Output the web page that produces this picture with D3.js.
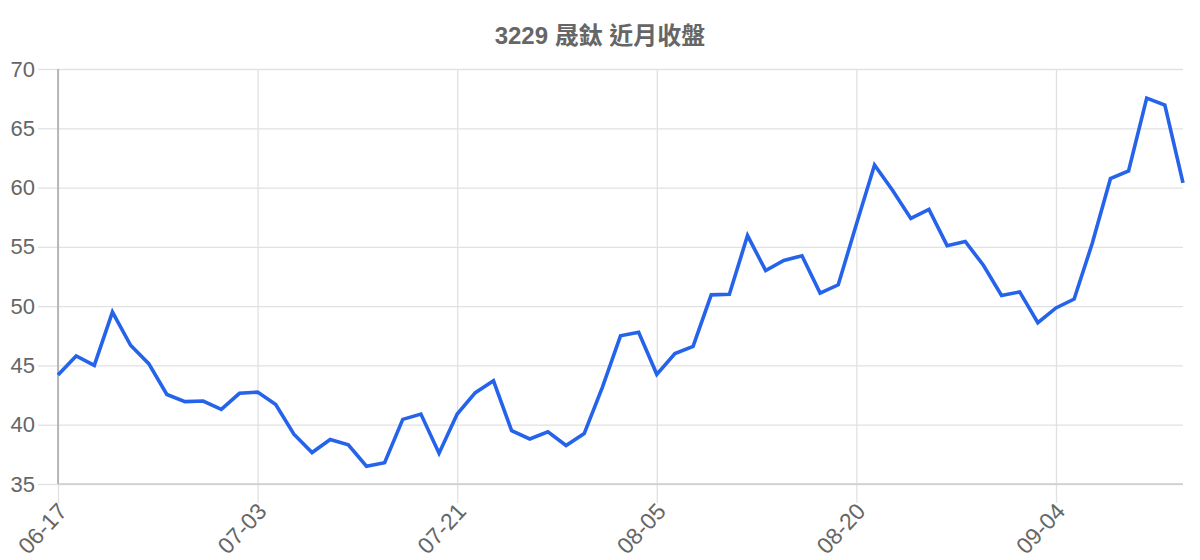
<!DOCTYPE html>
<html>
<head>
<meta charset="utf-8">
<title>3229 晟鈦 近月收盤</title>
<script src="https://d3js.org/d3.v7.min.js"></script>
<style>
  html, body { margin: 0; padding: 0; background: #fff; }
  svg { display: block; font-family: "Liberation Sans", Arial, "Noto Sans CJK TC", sans-serif; }
</style>
</head>
<body>
<div id="chart"></div>
<script>
// trading dates (x categories)
var dates = [
  "06-17","06-18","06-19","06-23","06-24","06-25","06-26","06-27","06-30","07-01","07-02",
  "07-03","07-04","07-08","07-09","07-10","07-11","07-14","07-15","07-16","07-17","07-18",
  "07-21","07-22","07-23","07-24","07-25","07-28","07-29","07-30","07-31","08-01","08-04",
  "08-05","08-06","08-07","08-08","08-11","08-12","08-13","08-14","08-15","08-18","08-19",
  "08-20","08-21","08-22","08-25","08-26","08-27","08-28","08-29","09-01","09-02","09-03",
  "09-04","09-05","09-08","09-09","09-10","09-11","09-12","09-15"
];
// closing prices
var closes = [
  44.2, 45.8, 45.0, 49.5, 46.7, 45.15, 42.55, 41.95, 42.0, 41.3,
  42.65, 42.75, 41.7, 39.2, 37.65, 38.75, 38.3, 36.5, 36.8, 40.45,
  40.9, 37.6, 40.9, 42.7, 43.7, 39.5, 38.8, 39.4, 38.25, 39.25,
  43.15, 47.5, 47.8, 44.25, 46.0, 46.6, 50.95, 51.0, 55.95, 53.0,
  53.85, 54.25, 51.1, 51.8, 56.9, 61.9, 59.75, 57.4, 58.15, 55.1,
  55.45, 53.45, 50.9, 51.2, 48.6, 49.85, 50.6, 55.3, 60.75, 61.4,
  67.55, 66.95, 60.4
];
var xTickLabels = ["06-17","07-03","07-21","08-05","08-20","09-04"];
var yTicks = [35, 40, 45, 50, 55, 60, 65, 70];
var title = "3229 晟鈦 近月收盤";

var W = 1200, H = 560;
var margin = {top: 69, right: 17, bottom: 76, left: 58};
var width = W - margin.left - margin.right,
    height = H - margin.top - margin.bottom;

var svg = d3.select("#chart").append("svg")
    .attr("width", W)
    .attr("height", H);

svg.append("text")
    .attr("x", W / 2)
    .attr("y", 44)
    .attr("text-anchor", "middle")
    .attr("font-size", 24)
    .attr("font-weight", "bold")
    .attr("fill", "#666")
    .text(title);

var g = svg.append("g")
    .attr("transform", "translate(" + margin.left + "," + margin.top + ")");

var x = d3.scalePoint().domain(dates).range([0, width]);
var y = d3.scaleLinear().domain([35, 70]).range([height, 0]);

// horizontal grid
g.append("g")
    .attr("class", "ygrid")
    .call(d3.axisLeft(y).tickValues(yTicks).tickSize(-width).tickFormat(""))
    .call(function(s) {
      s.select(".domain").remove();
      s.selectAll("line").attr("stroke", "#e1e1e1").attr("stroke-width", 1.3);
    });

// vertical grid
g.append("g")
    .attr("class", "xgrid")
    .attr("transform", "translate(0," + height + ")")
    .call(d3.axisBottom(x).tickValues(xTickLabels).tickSize(-height).tickFormat(""))
    .call(function(s) {
      s.select(".domain").remove();
      s.selectAll("line").attr("stroke", "#e1e1e1").attr("stroke-width", 1.3);
    });

// y axis
g.append("g")
    .call(d3.axisLeft(y).tickValues(yTicks).tickSize(20).tickPadding(3))
    .call(function(s) {
      s.select(".domain").remove();
      s.selectAll("line").attr("stroke", "#e1e1e1").attr("stroke-width", 1.3);
      s.selectAll("text").attr("font-size", 22).attr("fill", "#666")
        .attr("font-family", "Liberation Sans, Arial, sans-serif");
    });

// x axis
g.append("g")
    .attr("transform", "translate(0," + height + ")")
    .call(d3.axisBottom(x).tickValues(xTickLabels).tickSize(19))
    .call(function(s) {
      s.select(".domain").remove();
      s.selectAll("line").attr("stroke", "#e1e1e1").attr("stroke-width", 1.3);
      s.selectAll("text")
        .attr("font-size", 23)
        .attr("fill", "#666")
        .attr("font-family", "Liberation Sans, Arial, sans-serif")
        .attr("text-anchor", "end")
        .attr("x", 0).attr("y", 0).attr("dy", "0.35em")
        .attr("transform", "translate(4,23) rotate(-47)");
    });

// axis lines
g.append("line")
    .attr("x1", 0).attr("x2", width)
    .attr("y1", y(35)).attr("y2", y(35))
    .attr("stroke", "#cccccc").attr("stroke-width", 1.6);
g.append("line")
    .attr("x1", 0).attr("x2", 0)
    .attr("y1", y(70)).attr("y2", y(35))
    .attr("stroke", "#aaaaaa").attr("stroke-width", 1.6);

// price line
var line = d3.line()
    .x(function(d, i) { return x(dates[i]); })
    .y(function(d) { return y(d); });

g.append("path")
    .datum(closes)
    .attr("fill", "none")
    .attr("stroke", "#2563eb")
    .attr("stroke-width", 3.6)
    .attr("stroke-linejoin", "miter")
    .attr("d", line);
</script>
</body>
</html>
